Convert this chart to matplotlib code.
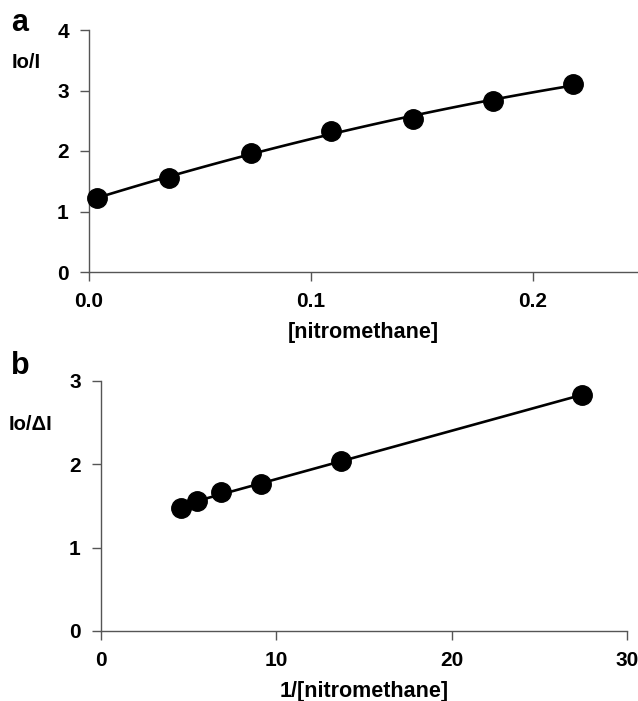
import numpy as np
import matplotlib
matplotlib.use('Agg')
import matplotlib.pyplot as plt

plt.rcParams['font.family'] = ['Liberation Sans', 'DejaVu Sans']
plt.rcParams['font.weight'] = 'bold'

# panel a: Io/I against nitromethane concentration
conc = [0.0036, 0.036, 0.073, 0.109, 0.146, 0.182, 0.218]
io_i = [1.22, 1.56, 1.97, 2.33, 2.53, 2.82, 3.11]

# panel b: Io/dI against 1/[nitromethane]
inv_conc = [4.55, 5.5, 6.83, 9.13, 13.68, 27.43]
io_di = [1.48, 1.56, 1.67, 1.77, 2.04, 2.83]

fig = plt.figure(figsize=(6.38, 7.01), dpi=100)
W, H = 638, 701


def style(ax):
    for s in ['top', 'right']:
        ax.spines[s].set_visible(False)
    for s in ['left', 'bottom']:
        ax.spines[s].set_color('#555555')
        ax.spines[s].set_linewidth(1.0)
    ax.tick_params(direction='out', length=6.5, width=1.0, color='#555555',
                   labelsize=15, pad=8)
    for lab in ax.get_xticklabels() + ax.get_yticklabels():
        lab.set_fontweight('bold')


# top axes: left 89, right 637, top 30, bottom 272 (pixels)
ax1 = fig.add_axes([89 / W, 1 - 272 / H, (637 - 89) / W, (272 - 30) / H])
# smooth trend curve (quadratic fit of the points)
c2 = np.polyfit(conc, io_i, 2)
xs1 = np.linspace(min(conc), max(conc), 100)
ax1.plot(xs1, np.polyval(c2, xs1), color='black', lw=1.9, zorder=2)
ax1.plot(conc, io_i, 'o', color='black', ms=14, zorder=3, clip_on=False)
ax1.set_xlim(0, 0.247)
ax1.set_ylim(0, 4)
ax1.set_xticks([0.0, 0.1, 0.2])
ax1.set_xticklabels(['0.0', '0.1', '0.2'])
ax1.set_yticks([0, 1, 2, 3, 4])
style(ax1)
ax1.set_xlabel('[nitromethane]', fontsize=15.5, fontweight='bold', labelpad=8)

# bottom axes: left 101, right 627, top 381, bottom 631
ax2 = fig.add_axes([101 / W, 1 - 631 / H, (627 - 101) / W, (631 - 381) / H])
k, b = np.polyfit(inv_conc, io_di, 1)
xs = np.array([min(inv_conc), max(inv_conc)])
ax2.plot(xs, k * xs + b, color='black', lw=1.9, zorder=2)
ax2.plot(inv_conc, io_di, 'o', color='black', ms=14, zorder=3, clip_on=False)
ax2.set_xlim(0, 30)
ax2.set_ylim(0, 3)
ax2.set_xticks([0, 10, 20, 30])
ax2.set_yticks([0, 1, 2, 3])
style(ax2)
ax2.set_xlabel('1/[nitromethane]', fontsize=15.5, fontweight='bold', labelpad=8)

# panel letters and y labels
fig.text(11 / W, 1 - 23 / H, 'a', fontsize=22, fontweight='bold', va='center', ha='left')
fig.text(12 / W, 1 - 63 / H, 'Io/I', fontsize=14.5, fontweight='bold', va='center', ha='left')
fig.text(11 / W, 1 - 366 / H, 'b', fontsize=22, fontweight='bold', va='center', ha='left')
fig.text(9 / W, 1 - 424 / H, 'Io/\u0394I', fontsize=14.5, fontweight='bold', va='center', ha='left')

fig.savefig('out.png', dpi=100)
